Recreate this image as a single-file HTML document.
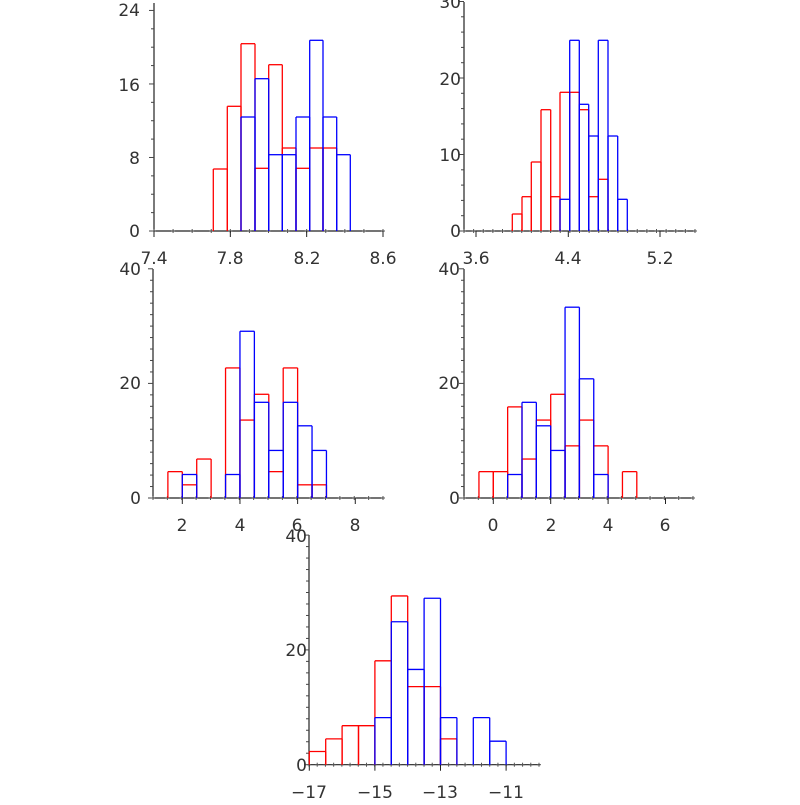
<!DOCTYPE html>
<html><head><meta charset="utf-8"><style>
html,body{margin:0;padding:0;background:#fff}
svg text{font-family:"DejaVu Sans","Liberation Sans",sans-serif;font-size:17px;fill:#333}
</style></head><body>
<svg id="s" width="800" height="800" viewBox="0 0 800 800" xmlns="http://www.w3.org/2000/svg">
<g id="g"></g>
<text x="140" y="16" text-anchor="end">24</text>
<text x="140" y="91" text-anchor="end">16</text>
<text x="140" y="164" text-anchor="end">8</text>
<text x="140" y="237" text-anchor="end">0</text>
<text x="154" y="264" text-anchor="middle">7.4</text>
<text x="230" y="264" text-anchor="middle">7.8</text>
<text x="307" y="264" text-anchor="middle">8.2</text>
<text x="383" y="264" text-anchor="middle">8.6</text>
<text x="461" y="8" text-anchor="end">30</text>
<text x="461" y="85" text-anchor="end">20</text>
<text x="461" y="161" text-anchor="end">10</text>
<text x="461" y="237" text-anchor="end">0</text>
<text x="476" y="264" text-anchor="middle">3.6</text>
<text x="568" y="264" text-anchor="middle">4.4</text>
<text x="660" y="264" text-anchor="middle">5.2</text>
<text x="141" y="275" text-anchor="end">40</text>
<text x="141" y="389" text-anchor="end">20</text>
<text x="141" y="504" text-anchor="end">0</text>
<text x="182" y="531" text-anchor="middle">2</text>
<text x="240" y="531" text-anchor="middle">4</text>
<text x="297" y="531" text-anchor="middle">6</text>
<text x="355" y="531" text-anchor="middle">8</text>
<text x="460" y="275" text-anchor="end">40</text>
<text x="460" y="389" text-anchor="end">20</text>
<text x="460" y="504" text-anchor="end">0</text>
<text x="493" y="531" text-anchor="middle">0</text>
<text x="551" y="531" text-anchor="middle">2</text>
<text x="608" y="531" text-anchor="middle">4</text>
<text x="665" y="531" text-anchor="middle">6</text>
<text x="307" y="542" text-anchor="end">40</text>
<text x="307" y="656" text-anchor="end">20</text>
<text x="307" y="771" text-anchor="end">0</text>
<text x="309" y="798" text-anchor="middle">−17</text>
<text x="375" y="798" text-anchor="middle">−15</text>
<text x="440" y="798" text-anchor="middle">−13</text>
<text x="506" y="798" text-anchor="middle">−11</text>
</svg>
<script>
var g=document.getElementById('g'),NS='http://www.w3.org/2000/svg';
function L(x1,y1,x2,y2,c,w){var e=document.createElementNS(NS,'line');e.setAttribute('x1',x1);e.setAttribute('y1',y1);e.setAttribute('x2',x2);e.setAttribute('y2',y2);e.setAttribute('stroke',c);e.setAttribute('stroke-width',w||1);g.appendChild(e);}
function bars(edges,tops,y0,c){for(var i=0;i<tops.length;i++){var t=tops[i];if(t==null)continue;var a=edges[i],b=edges[i+1];
L(a,y0,a,t,c,1.3);L(a,t,b,t,c,1.3);L(b,t,b,y0,c,1.3);}}
function axes(x0,x1,y0,ytop,unitPx,maxU,majU,xs,xmaj){
L(x0,y0,x1,y0,'#222',1.2);L(x0,y0,x0,ytop,'#222',1.2);
for(var u=0;u<=maxU+0.001;u+=2){var y=y0-u*unitPx;var maj=Math.abs(u/majU-Math.round(u/majU))<1e-6;L(x0-(maj?5:3),y,x0,y,'#444',1);}
xs.forEach(function(x){L(x,y0-2,x,y0+2,'#555',1);L(x-2,y0,x+2,y0,'#555',1);});
xmaj.forEach(function(x){L(x,y0,x,y0+6,'#222',1);});}
function seq(a,b,n){var r=[];for(var i=0;i<=n;i++)r.push(a+(b-a)*i/n);return r;}
axes(154,383,231,3,9.19,24,8,seq(154,383,12),seq(154,383,3));
var e1=[213.3,227.3,241,255,268.7,282.3,296,309.7,323,336.7,350.3];
bars(e1,[169,106.3,43.7,168.3,64.7,148,168.3,148,148,null],231,'#f00');
bars(e1,[null,null,117,78.7,154.7,154.7,117,40.3,117,154.7],231,'#00f');
axes(464,695,231,2,7.65,30,10,seq(464,695,24),[476,568.3,660]);
var e2=[512.3,522,531.3,541,550.7,560,569.7,579.3,588.7,598.3,608,617.7,627.3];
bars(e2,[214,196.7,162,109.7,196.7,92.3,92.3,109.7,196.7,179.3,null,null],231,'#f00');
bars(e2,[null,null,null,null,null,199.3,40.3,104.3,136,40.3,136,199.3],231,'#00f');
function x3(v){return 182.3+(v-2)*28.83;}
axes(153,383,498,269,5.73,40,20,seq(153,383,16),[x3(2),x3(4),x3(6),x3(8)]);
var e3=[];for(var v=1.5;v<=7.01;v+=0.5)e3.push(x3(v));
var r3=[4.6,2.3,6.8,0,22.7,13.6,18.1,4.6,22.7,2.3,2.3],b3=[0,4.1,0,0,4.1,29.1,16.7,8.3,16.7,12.6,8.3];
function tp(a,y0,u){return a.map(function(c){return c>0?y0-c*u:null;});}
bars(e3,tp(r3,498,5.73),498,'#f00');bars(e3,tp(b3,498,5.73),498,'#00f');
function x4(v){return 493.3+v*28.7;}
axes(464,693,498,269,5.73,40,20,seq(464,693,16),[x4(0),x4(2),x4(4),x4(6)]);
var e4=[];for(var v=-0.5;v<=5.01;v+=0.5)e4.push(x4(v));
var r4=[4.6,4.6,15.9,6.8,13.6,18.1,9.1,13.6,9.1,0,4.6],b4=[0,0,4.1,16.7,12.6,8.3,33.3,20.8,4.1,0,0];
bars(e4,tp(r4,498,5.73),498,'#f00');bars(e4,tp(b4,498,5.73),498,'#00f');
function x5(v){return 309.3+(v+17)*32.8;}
axes(309,540,764.7,535,5.74,40,20,seq(309,539,28),[x5(-17),x5(-15),x5(-13),x5(-11)]);
var e5=[];for(var v=-17;v<=-10.99;v+=0.5)e5.push(x5(v));
var r5=[2.3,4.5,6.8,6.8,18.1,29.4,13.6,13.6,4.5,0,0,0],b5=[0,0,0,0,8.2,24.9,16.6,29,8.2,0,8.2,4.1];
bars(e5,tp(r5,764.7,5.74),764.7,'#f00');bars(e5,tp(b5,764.7,5.74),764.7,'#00f');
</script>
</body></html>
